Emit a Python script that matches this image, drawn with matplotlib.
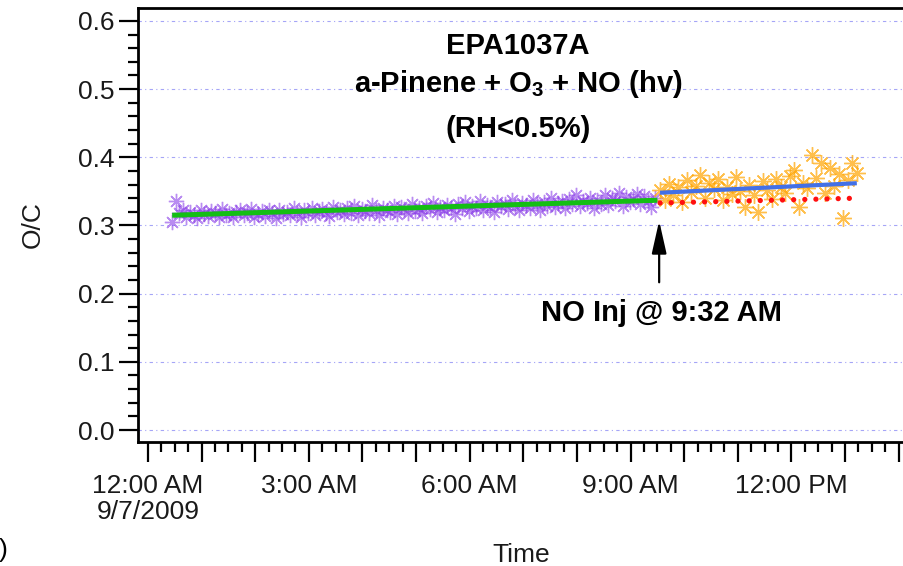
import numpy as np
import matplotlib
matplotlib.use("Agg")
import matplotlib.pyplot as plt
from matplotlib.ticker import MultipleLocator, FixedLocator, FixedFormatter

plt.rcParams.update({
    "font.family": ["Liberation Sans", "DejaVu Sans"],
    "mathtext.fontset": "custom",
    "mathtext.rm": "Liberation Sans",
    "mathtext.bf": "Liberation Sans:bold",
})

# --- data (hours since 12:00 AM 9/7/2009, O/C ratio) ---
PURPLE_START, PURPLE_STEP = 0.45, 4 / 60.0
purple_oc = [
    0.305, 0.336, 0.318, 0.322, 0.312, 0.320, 0.316, 0.311, 0.323, 0.317,
    0.314, 0.321, 0.319, 0.312, 0.324, 0.316, 0.318, 0.313, 0.320, 0.322,
    0.315, 0.319, 0.324, 0.313, 0.317, 0.321, 0.314, 0.322, 0.318, 0.311,
    0.323, 0.317, 0.320, 0.315, 0.325, 0.319, 0.313, 0.322, 0.318, 0.326,
    0.316, 0.321, 0.324, 0.318, 0.314, 0.327, 0.320, 0.323, 0.317, 0.325,
    0.319, 0.328, 0.315, 0.324, 0.321, 0.318, 0.330, 0.322, 0.316, 0.326,
    0.323, 0.320, 0.329, 0.317, 0.327, 0.324, 0.319, 0.331, 0.321, 0.326,
    0.318, 0.328, 0.324, 0.333, 0.320, 0.327, 0.322, 0.330, 0.325, 0.317,
    0.331, 0.326, 0.334, 0.321, 0.329, 0.325, 0.336, 0.323, 0.330, 0.327,
    0.320, 0.334, 0.328, 0.332, 0.324, 0.338, 0.329, 0.322, 0.333, 0.330,
    0.326, 0.337, 0.331, 0.323, 0.335, 0.329, 0.340, 0.327, 0.333, 0.336,
    0.325, 0.339, 0.331, 0.344, 0.328, 0.336, 0.333, 0.341, 0.326, 0.338,
    0.332, 0.345, 0.330, 0.340, 0.336, 0.347, 0.329, 0.342, 0.334, 0.339,
    0.346, 0.331, 0.343, 0.336, 0.327, 0.341,
]
ORANGE_START, ORANGE_STEP = 9.55, 5 / 60.0
orange_oc = [
    0.352, 0.338, 0.361, 0.345, 0.356, 0.334, 0.366, 0.349, 0.358, 0.374,
    0.341, 0.362, 0.353, 0.368, 0.337, 0.357, 0.346, 0.371, 0.350, 0.327,
    0.359, 0.344, 0.320, 0.365, 0.352, 0.339, 0.368, 0.356, 0.347, 0.373,
    0.381, 0.327, 0.362, 0.355, 0.403, 0.370, 0.391, 0.348, 0.385, 0.358,
    0.376, 0.311, 0.366, 0.391, 0.377,
]
# linear fits: (t_start, t_end), (oc_start, oc_end)
green_fit_t, green_fit_oc = [0.45, 9.5], [0.315, 0.337]
blue_fit_t, blue_fit_oc = [9.55, 13.22], [0.348, 0.362]
red_fit_t, red_fit_oc = [9.55, 13.2], [0.333, 0.340]

no_inj_t = 9 + 32 / 60.0
xtick_hours = [0, 3, 6, 9, 12]
xtick_labels = ["12:00 AM\n9/7/2009", "3:00 AM", "6:00 AM", "9:00 AM", "12:00 PM"]

W, H = 904, 566
fig = plt.figure(figsize=(W / 100, H / 100), dpi=100)
ax = fig.add_axes([138 / W, 1 - 442 / H, (W - 138) / W, (442 - 8) / H])

t_p = PURPLE_START + PURPLE_STEP * np.arange(len(purple_oc))
t_o = ORANGE_START + ORANGE_STEP * np.arange(len(orange_oc))
star = (8, 2, 0)
ax.plot(t_p, purple_oc, ls="none", marker=star, ms=11, mew=1.0,
        color="#8B3FE8", alpha=0.6, zorder=2)
ax.plot(t_o, orange_oc, ls="none", marker=star, ms=12, mew=1.0,
        color="#FFA500", alpha=0.7, zorder=2)
ax.plot(green_fit_t, green_fit_oc, color="#14BE14", lw=3.6,
        solid_capstyle="butt", zorder=3)
ax.plot(blue_fit_t, blue_fit_oc, color="#4370E6", lw=3.0,
        solid_capstyle="butt", zorder=3)
ax.plot(red_fit_t, red_fit_oc, color="#FF1010", lw=3.8,
        ls=(0, (0.01, 2.1)), dash_capstyle="round", zorder=4)

ax.set_xlim(-0.187, 14.1)
ax.set_ylim(-0.0176, 0.619)

# y axis
ax.yaxis.set_major_locator(MultipleLocator(0.1))
ax.yaxis.set_minor_locator(MultipleLocator(0.02))
ax.yaxis.set_major_formatter(plt.FormatStrFormatter("%.1f"))
ax.tick_params(axis="y", which="major", direction="out", length=14,
               width=1.6, labelsize=19, pad=3, labelcolor="#1a1a1a")
ax.tick_params(axis="y", which="minor", direction="out", length=7, width=1.6)
ax.grid(True, axis="y", which="major", color="#A5A5F7", lw=0.8,
        ls=(0, (3, 3, 1, 3)))

# x axis: hourly ticks, long ticks with labels every 3 h, 15-min minors
hours = list(range(0, 15))
ax.xaxis.set_major_locator(FixedLocator(hours))
ax.xaxis.set_major_formatter(FixedFormatter(
    [xtick_labels[xtick_hours.index(h)] if h in xtick_hours else "" for h in hours]))
ax.xaxis.set_minor_locator(MultipleLocator(0.25))
ax.tick_params(axis="x", which="major", direction="out", length=11,
               width=1.6, labelsize=19, pad=12, labelcolor="#1a1a1a")
ax.tick_params(axis="x", which="minor", direction="out", length=7, width=1.6)
for tk in ax.xaxis.get_major_ticks():
    if tk.get_loc() in xtick_hours:
        tk.tick1line.set_markersize(14.5)
        tk.label1.set_linespacing(1.1)

for s in ["left", "bottom", "top"]:
    ax.spines[s].set_linewidth(2.0)
ax.spines["right"].set_visible(False)

ax.set_ylabel("O/C", fontsize=19, labelpad=24, color="#1a1a1a")
ax.set_xlabel("Time", fontsize=19, labelpad=14, color="#1a1a1a")

# title block and injection marker
ax.text(6.9, 0.563, "EPA1037A", ha="center", va="center",
        fontsize=21, fontweight="bold")
ax.text(6.9, 0.508, r"a-Pinene + O$_{\mathbf{3}}$ + NO (hv)", ha="center",
        va="center", fontsize=21, fontweight="bold")
ax.text(6.9, 0.441, "(RH<0.5%)", ha="center", va="center",
        fontsize=21, fontweight="bold")
ax.annotate("", xy=(no_inj_t, 0.311), xytext=(no_inj_t, 0.2126),
            arrowprops=dict(arrowstyle="-|>,head_length=0.8,head_width=0.18",
                            color="black", lw=1.6, mutation_scale=25))
ax.text(no_inj_t + 0.05, 0.1716, "NO Inj @ 9:32 AM", ha="center", va="center",
        fontsize=21, fontweight="bold")

fig.text(8 / W, 1 - 550 / H, ")", ha="right", va="center", fontsize=19)

fig.savefig("out.png", dpi=100)
